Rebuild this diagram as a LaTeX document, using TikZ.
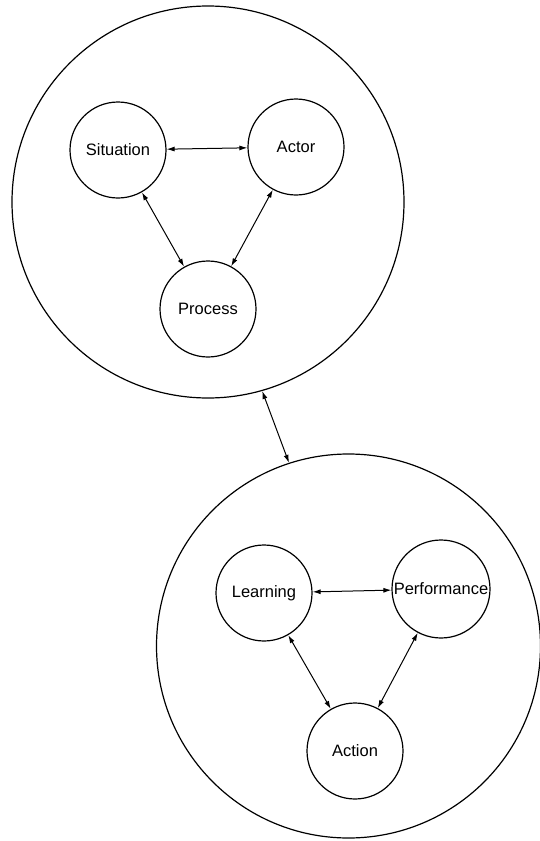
\documentclass[tikz,border=0pt]{standalone}
\usepackage{fontspec}
\setmainfont{Liberation Sans}
\usetikzlibrary{arrows.meta}
\begin{document}
\begin{tikzpicture}[x=1pt,y=-1pt,
  bigcirc/.style={draw, circle, line width=1.2pt, inner sep=0pt},
  smallcirc/.style={draw, circle, line width=1.2pt, inner sep=0pt, minimum size=96pt,
    font=\fontsize{16.5}{19}\selectfont},
  link/.style={line width=1pt, {Latex[length=8pt,width=5pt]}-{Latex[length=8pt,width=5pt]}}]
\useasboundingbox (0,0) rectangle (540,841);
% big circles
\node[bigcirc, minimum size=392pt] (top) at (208,202) {};
\node[bigcirc, minimum size=384pt] (bot) at (348.5,646) {};
% top group
\node[smallcirc] (sit) at (118,150) {Situation};
\node[smallcirc] (act) at (296,147) {Actor};
\node[smallcirc] (pro) at (208,309) {Process};
% bottom group
\node[smallcirc] (lea) at (264,593) {Learning};
\node[smallcirc, minimum size=98pt] (per) at (441,589) {Performance};
\node[smallcirc] (acn) at (355,751) {Action};
% links
\draw[link] (sit) -- (act);
\draw[link] (sit) -- (pro);
\draw[link] (act) -- (pro);
\draw[link] (lea) -- (per);
\draw[link] (lea) -- (acn);
\draw[link] (per) -- (acn);
\draw[link] (top.-74) -- (bot.108);
\end{tikzpicture}
\end{document}
